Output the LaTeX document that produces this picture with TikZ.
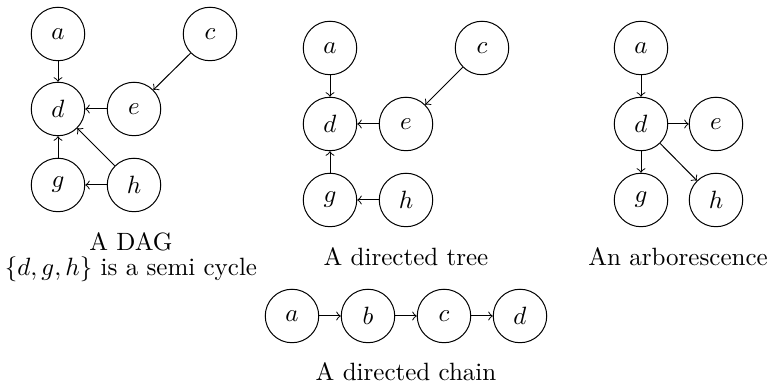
\documentclass[tikz,border=0pt]{standalone}
\begin{document}
\begin{tikzpicture}[x=0.40pt,y=-0.40pt,
  vtx/.style={circle,draw,minimum size=21.4pt,inner sep=0pt},
  lbl/.style={inner sep=0.5pt,outer sep=0pt,align=center},
  arr/.style={->}]
\useasboundingbox (0,0) rectangle (769,385);
% DAG
\node[vtx] (Aa) at (58,34) {$a$};
\node[vtx] (Ac) at (210,34) {$c$};
\node[vtx] (Ad) at (58,109) {$d$};
\node[vtx] (Ae) at (134,109) {$e$};
\node[vtx] (Ag) at (58,185) {$g$};
\node[vtx] (Ah) at (134,185) {$h$};
\draw[arr] (Aa) -- (Ad);
\draw[arr] (Ac) -- (Ae);
\draw[arr] (Ae) -- (Ad);
\draw[arr] (Ag) -- (Ad);
\draw[arr] (Ah) -- (Ad);
\draw[arr] (Ah) -- (Ag);
\node[lbl] (Al) at (131,257) {A DAG\\[-2pt]$\{d,g,h\}$ is a semi cycle};
% tree
\node[vtx] (Ba) at (330,48) {$a$};
\node[vtx] (Bc) at (482,48) {$c$};
\node[vtx] (Bd) at (330,124) {$d$};
\node[vtx] (Be) at (406,124) {$e$};
\node[vtx] (Bg) at (330,200) {$g$};
\node[vtx] (Bh) at (406,200) {$h$};
\draw[arr] (Ba) -- (Bd);
\draw[arr] (Bc) -- (Be);
\draw[arr] (Be) -- (Bd);
\draw[arr] (Bg) -- (Bd);
\draw[arr] (Bh) -- (Bg);
\node[lbl] (Bl) at (406,257) {A directed tree};
% arborescence
\node[vtx] (Ca) at (641,48) {$a$};
\node[vtx] (Cd) at (641,124) {$d$};
\node[vtx] (Ce) at (716,124) {$e$};
\node[vtx] (Cg) at (641,200) {$g$};
\node[vtx] (Ch) at (716,200) {$h$};
\draw[arr] (Ca) -- (Cd);
\draw[arr] (Cd) -- (Ce);
\draw[arr] (Cd) -- (Cg);
\draw[arr] (Cd) -- (Ch);
\node[lbl] (Cl) at (678,257) {An arborescence};
% chain
\node[vtx] (Da) at (292,316) {$a$};
\node[vtx] (Db) at (368,316) {$b$};
\node[vtx] (Dc) at (444,316) {$c$};
\node[vtx] (Dd) at (520,316) {$d$};
\draw[arr] (Da) -- (Db);
\draw[arr] (Db) -- (Dc);
\draw[arr] (Dc) -- (Dd);
\node[lbl] (Dl) at (406,372) {A directed chain};
\end{tikzpicture}
\end{document}
